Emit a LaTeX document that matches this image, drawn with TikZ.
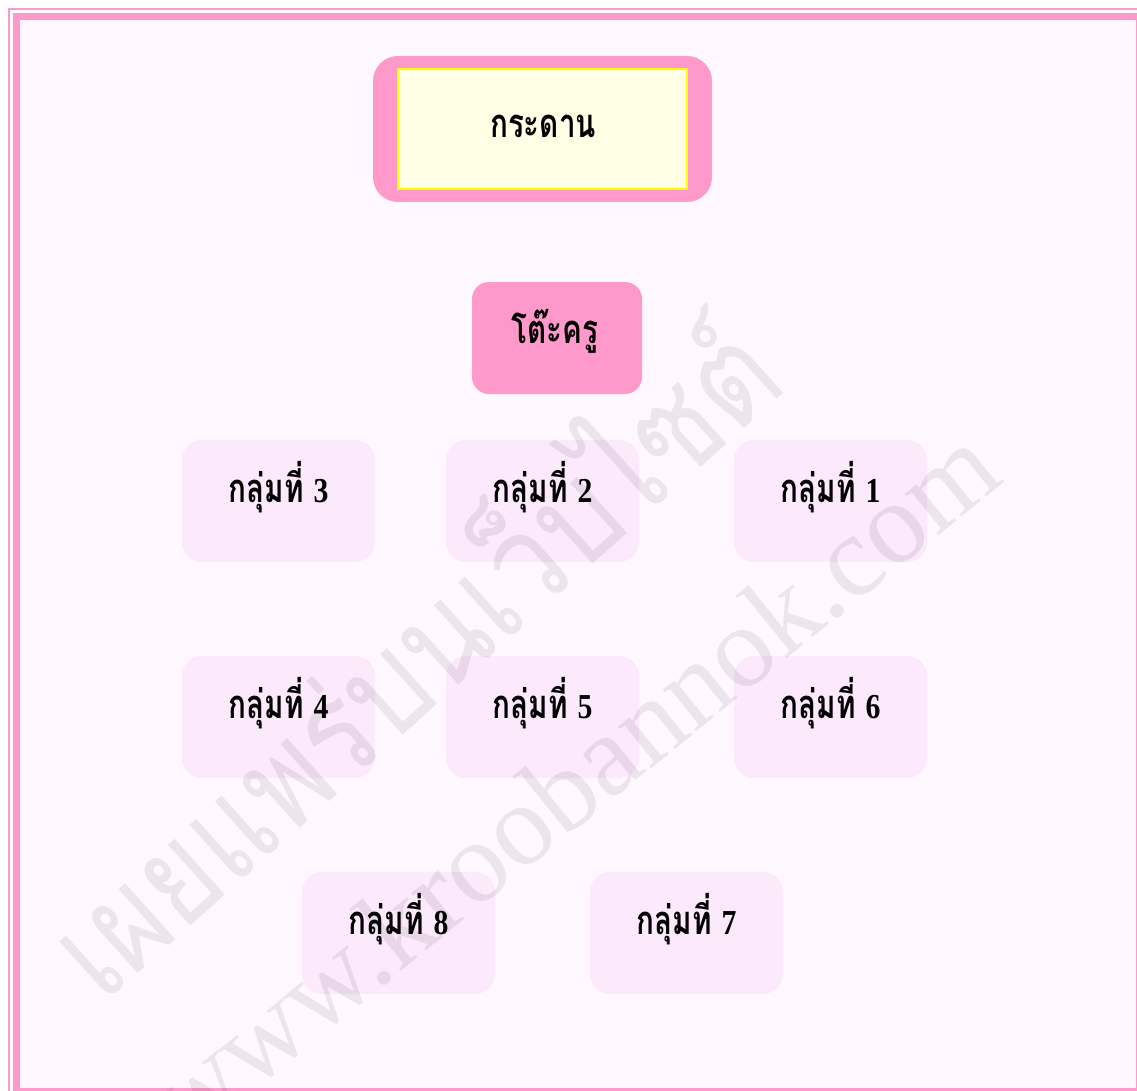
\documentclass[tikz,border=0pt]{standalone}
\usepackage{fontspec}
\newfontfamily\thaifont[Script=Thai,FakeStretch=0.85]{Loma}
\newfontfamily\thaicond[Script=Thai,FakeStretch=0.74]{Loma}
\newfontfamily\digfont[FakeStretch=0.85]{Liberation Serif}
\newfontfamily\wmlatin{Liberation Serif}
\definecolor{pinkA}{RGB}{255,153,204}
\definecolor{bgpink}{RGB}{255,248,254}
\definecolor{grpfill}{RGB}{252,233,252}
\definecolor{boardfill}{RGB}{255,255,230}
\definecolor{yel}{RGB}{255,255,0}
\tikzset{
  grp/.style={fill=grpfill, rounded corners=20pt, minimum width=193pt, minimum height=122pt, inner sep=0pt},
  lbl/.style={anchor=base, inner sep=0pt, font=\thaicond\bfseries\fontsize{40}{44}\selectfont},
  wm/.style={text opacity=0.075, inner sep=0pt}
}
\newcommand{\gnum}[1]{{\digfont\bfseries\fontsize{35}{38}\selectfont #1}}
\begin{document}
\begin{tikzpicture}[x=1pt,y=-1pt]
\useasboundingbox (0,0) rectangle (1137,1091);
\clip (0,0) rectangle (1137,1091);
\fill[white] (0,0) rectangle (1137,1091);
% frame
\draw[pinkA, line width=2pt] (9,9) rectangle (1147,1098.5);
\fill[bgpink] (20,20) rectangle (1136,1087.5);
\draw[pinkA, line width=7pt] (16.5,16.3) rectangle (1139.5,1091);
% board
\node[fill=pinkA, rounded corners=25pt, minimum width=339pt, minimum height=146pt, inner sep=0pt] (board) at (542.5,129) {};
\node[fill=boardfill, draw=yel, line width=2pt, minimum width=289pt, minimum height=120pt, inner sep=0pt] (boardin) at (board.center) {};
\node[lbl] (boardtxt) at (543,138) {กระดาน};
% teacher desk
\node[fill=pinkA, rounded corners=17pt, minimum width=170pt, minimum height=112pt, inner sep=0pt] (desk) at (557,338) {};
\node[lbl] (desktxt) at (555,343) {โต๊ะครู};
% groups
\node[grp] (g3) at (278.5,501) {};
\node[grp] (g2) at (542.5,501) {};
\node[grp] (g1) at (830.5,501) {};
\node[grp] (g4) at (278.5,717) {};
\node[grp] (g5) at (542.5,717) {};
\node[grp] (g6) at (830.5,717) {};
\node[grp] (g8) at (398.5,933) {};
\node[grp] (g7) at (686.5,933) {};
\node[lbl] (t3) at (278.5,502) {กลุ่มที่ \gnum{3}};
\node[lbl] (t2) at (542.5,502) {กลุ่มที่ \gnum{2}};
\node[lbl] (t1) at (830.5,502) {กลุ่มที่ \gnum{1}};
\node[lbl] (t4) at (278.5,718) {กลุ่มที่ \gnum{4}};
\node[lbl] (t5) at (542.5,718) {กลุ่มที่ \gnum{5}};
\node[lbl] (t6) at (830.5,718) {กลุ่มที่ \gnum{6}};
\node[lbl] (t8) at (398.5,934) {กลุ่มที่ \gnum{8}};
\node[lbl] (t7) at (686.5,934) {กลุ่มที่ \gnum{7}};
% watermark
\node[wm, rotate=42, font=\thaifont\fontsize{135}{140}\selectfont] (wm1) at (405,650) {เผยแพร่บนเว็บไซต์};
\node[wm, rotate=39, font=\wmlatin\fontsize{116}{120}\selectfont] (wm2) at (572,782) {www.kroobannok.com};
\end{tikzpicture}
\end{document}
